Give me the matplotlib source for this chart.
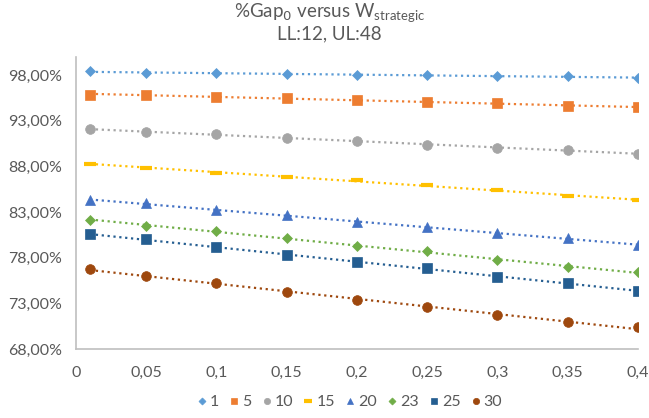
import numpy as np
import matplotlib
matplotlib.use("Agg")
import matplotlib.pyplot as plt
from matplotlib.ticker import FuncFormatter

# W_strategic values (x) and %Gap0 per series
w_strategic = [0.01, 0.05, 0.1, 0.15, 0.2, 0.25, 0.3, 0.35, 0.4]
series_names = ['1', '5', '10', '15', '20', '23', '25', '30']
gap_1 = [98.45, 98.23, 98.23, 98.09, 97.98, 97.98, 97.87, 97.87, 97.73]
gap_5 = [95.87, 95.87, 95.60, 95.46, 95.24, 95.06, 94.95, 94.59, 94.51]
gap_10 = [92.07, 91.77, 91.52, 91.16, 90.79, 90.35, 90.02, 89.77, 89.41]
gap_15 = [88.24, 87.88, 87.33, 86.82, 86.49, 85.94, 85.40, 84.77, 84.30]
gap_20 = [84.30, 83.94, 83.21, 82.66, 81.93, 81.38, 80.66, 80.11, 79.38]
gap_23 = [82.17, 81.49, 80.91, 80.18, 79.27, 78.72, 77.74, 77.00, 76.39]
gap_25 = [80.58, 80.00, 79.13, 78.32, 77.55, 76.83, 75.91, 75.19, 74.38]
gap_30 = [76.75, 76.02, 75.19, 74.27, 73.36, 72.56, 71.75, 70.99, 70.37]

all_series = [gap_1, gap_5, gap_10, gap_15, gap_20, gap_23, gap_25, gap_30]
colors = ['#5B9BD5', '#ED7D31', '#A5A5A5', '#FFC000', '#4472C4', '#70AD47', '#255E91', '#9E480E']
markers = ['D', 's', 'o', '_', '^', 'D', 's', 'o']
msizes = [5.5, 7, 7, 8, 7, 5.5, 7, 7]

plt.rcParams['font.family'] = ['Lato', 'DejaVu Sans']
text_color = '#595959'

fig = plt.figure(figsize=(6.49, 4.18), dpi=100)
ax = fig.add_axes([0.117, 0.165, 0.866, 0.699])

x = np.array(w_strategic)
for name, vals, c, m, ms in zip(series_names, all_series, colors, markers, msizes):
    y = np.array(vals)
    # linear trendline (dotted), like the Excel chart
    k, b = np.polyfit(x, y, 1)
    ax.plot(x, k * x + b, linestyle=':', color=c, linewidth=1.6, zorder=2)
    mew = 3 if m == '_' else 0.5
    ax.plot(x, y, linestyle='none', marker=m, markersize=ms, color=c,
            markeredgecolor=c, markeredgewidth=mew, label=name, zorder=3)

ax.set_xlim(0, 0.4)
ax.set_ylim(68, 100)
ax.set_xticks([0, 0.05, 0.1, 0.15, 0.2, 0.25, 0.3, 0.35, 0.4])
ax.set_xticklabels(['0', '0,05', '0,1', '0,15', '0,2', '0,25', '0,3', '0,35', '0,4'])
ax.set_yticks([68, 73, 78, 83, 88, 93, 98])
ax.yaxis.set_major_formatter(FuncFormatter(lambda v, p: f'{v:.2f}'.replace('.', ',') + '%'))
ax.tick_params(length=0, labelsize=11.5, colors=text_color, pad=10)
ax.tick_params(axis='x', pad=12)
for s in ['top', 'right']:
    ax.spines[s].set_visible(False)
for s in ['left', 'bottom']:
    ax.spines[s].set_color('#BFBFBF')
    ax.spines[s].set_linewidth(1.2)

fig.text(0.508, 0.967, r'%Gap$_0$ versus W$_{\mathregular{strategic}}$', ha='center', va='center',
         fontsize=13.5, color=text_color)
fig.text(0.508, 0.918, 'LL:12, UL:48', ha='center', va='center', fontsize=13.5, color=text_color)

leg = fig.legend(loc='center', bbox_to_anchor=(0.538, 0.038), ncol=8, frameon=False,
                 fontsize=11.5, handletextpad=0.15, columnspacing=0.6, handlelength=0.7,
                 markerscale=0.65)
for t in leg.get_texts():
    t.set_color(text_color)

fig.savefig('out.png', dpi=100)
